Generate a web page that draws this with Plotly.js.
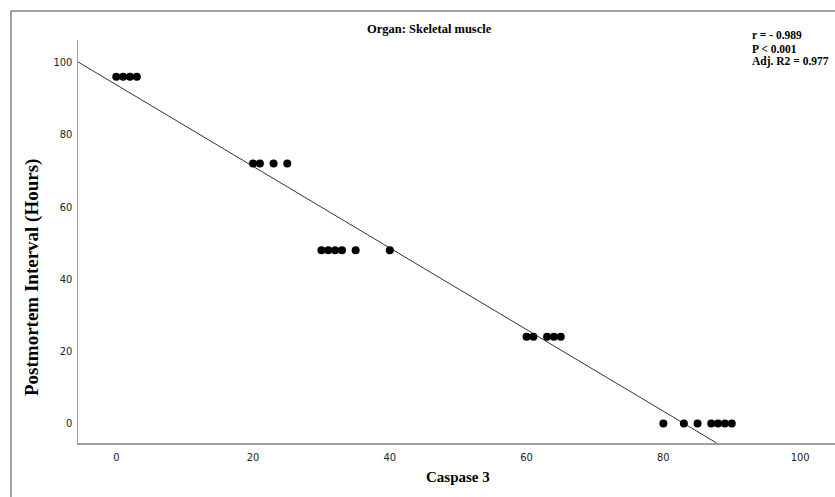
<!DOCTYPE html>
<html>
<head>
<meta charset="utf-8">
<script src="https://cdn.plot.ly/plotly-3.0.1.min.js"></script>
<style>html,body{margin:0;padding:0;background:#fff;}#chart{width:835px;height:497px;}</style>
</head>
<body>
<div id="chart"></div>
<script>
// Data
const caspase3 = [0, 1, 2, 3, 20, 21, 23, 25, 30, 31, 32, 33, 35, 40, 60, 61, 63, 64, 65, 80, 83, 85, 87, 88, 89, 90];
const pmiHours = [96, 96, 96, 96, 72, 72, 72, 72, 48, 48, 48, 48, 48, 48, 24, 24, 24, 24, 24, 0, 0, 0, 0, 0, 0, 0];
// Fit line as drawn in the picture (from left axis edge down to the x axis)
const fitIntercept = 93.8;
const fitSlope = -1.13;
const fitX = [-5.6, 87.8];
const fitY = fitX.map(x => fitIntercept + fitSlope * x);
const xTicks = [0, 20, 40, 60, 80, 100];
const yTicks = [0, 20, 40, 60, 80, 100];
const titleText = "Organ: Skeletal muscle";
const statsLines = ["r = - 0.989", "P &lt; 0.001", "Adj. R2 = 0.977"];

const W = 835, H = 497;
const mL = 78, mR = 0, mT = 40, mB = 54;
const pw = W - mL - mR, ph = H - mT - mB;
const px = p => (p - mL) / pw;
const py = p => (H - mB - p) / ph;

const serif = "Liberation Serif, Times New Roman, serif";
const narrow = "Liberation Sans Narrow, DejaVu Sans Condensed, Arial Narrow, sans-serif";

const traces = [
  {x: fitX, y: fitY, mode: 'lines', type: 'scatter', line: {color: '#333333', width: 1}, hoverinfo: 'skip', showlegend: false},
  {x: caspase3, y: pmiHours, mode: 'markers', type: 'scatter', marker: {color: '#000000', size: 8}, showlegend: false}
];

const statsAnn = statsLines.map((t, i) => ({
  text: '<b>' + t + '</b>', xref: 'paper', yref: 'paper', x: px(750), y: py(35 + i * 13.5),
  xanchor: 'left', yanchor: 'middle', align: 'left', showarrow: false,
  font: {family: serif, size: 11.5, color: '#000'}
}));

const layout = {
  width: W, height: H,
  margin: {l: mL, r: mR, t: mT, b: mB, pad: 0},
  paper_bgcolor: '#ffffff', plot_bgcolor: '#ffffff',
  showlegend: false,
  xaxis: {
    range: [-5.6, 105.1], showgrid: false, zeroline: false,
    showline: true, linecolor: '#a0a0a0', linewidth: 1.5,
    tickvals: xTicks, ticktext: xTicks.map(String), ticks: '',
    tickfont: {family: narrow, size: 11, color: '#222'},
    ticklabelstandoff: 3
  },
  yaxis: {
    range: [-5.4, 106.2], showgrid: false, zeroline: false,
    showline: true, linecolor: '#a0a0a0', linewidth: 1.5,
    tickvals: yTicks, ticktext: yTicks.map(String), ticks: '',
    tickfont: {family: narrow, size: 11, color: '#222'},
    ticklabelstandoff: 2
  },
  shapes: [
    {type: 'rect', xref: 'paper', yref: 'paper', x0: px(11), x1: px(900), y0: py(560), y1: py(11),
     line: {color: '#444444', width: 1}, fillcolor: 'rgba(0,0,0,0)', layer: 'below'}
  ],
  annotations: [
    {text: '<b>' + titleText + '</b>', xref: 'paper', yref: 'paper', x: px(429), y: py(29),
     xanchor: 'center', yanchor: 'middle', showarrow: false, font: {family: serif, size: 12.5, color: '#000'}},
    {text: '<b>Caspase 3</b>', xref: 'paper', yref: 'paper', x: px(458), y: py(477),
     xanchor: 'center', yanchor: 'middle', showarrow: false, font: {family: serif, size: 15, color: '#000'}},
    {text: '<b>Postmortem Interval (Hours)</b>', xref: 'paper', yref: 'paper', x: px(32), y: py(278),
     xanchor: 'center', yanchor: 'middle', textangle: -90, showarrow: false, font: {family: serif, size: 19, color: '#000'}}
  ].concat(statsAnn)
};

Plotly.newPlot('chart', traces, layout, {staticPlot: true, displayModeBar: false});
</script>
</body>
</html>
